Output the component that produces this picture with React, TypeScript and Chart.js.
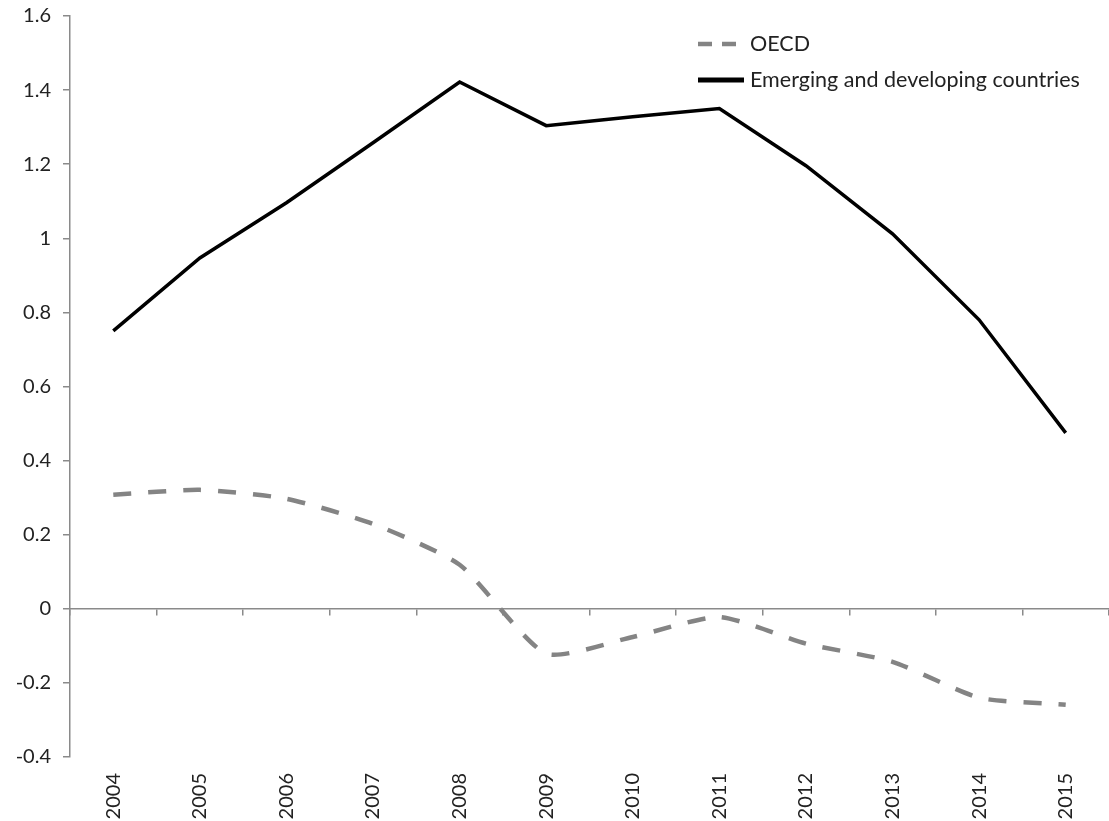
import React, { useEffect, useRef } from "react";
import { Chart, registerables } from "chart.js";

Chart.register(...registerables);

const years = ["2004", "2005", "2006", "2007", "2008", "2009", "2010", "2011", "2012", "2013", "2014", "2015"];
const oecd = [0.308, 0.321, 0.297, 0.229, 0.119, -0.121, -0.076, -0.022, -0.094, -0.143, -0.24, -0.259];
const emerging = [0.75, 0.947, 1.096, 1.258, 1.422, 1.304, 1.328, 1.35, 1.196, 1.012, 0.78, 0.475];
const yMin = -0.4;
const yMax = 1.6;
const yStep = 0.2;

const FONT = { family: "Lato, 'Open Sans', sans-serif", size: 20 };
const LEGEND_SIZE = 21.5;
const TEXT = "#222222";
const AXIS = "#8a8a8a";

const legendPlugin = {
  id: "customLegend",
  afterDraw(chart: any) {
    const ctx = chart.ctx;
    ctx.save();
    chart.data.datasets.forEach((ds: any, i: number) => {
      const y = 44 + i * 36;
      ctx.beginPath();
      ctx.strokeStyle = ds.borderColor;
      ctx.lineWidth = ds.borderDash ? ds.borderWidth : 5;
      ctx.setLineDash(ds.borderDash ? [14, 10] : []);
      ctx.lineDashOffset = 0;
      ctx.moveTo(698, y);
      ctx.lineTo(744, y);
      ctx.stroke();
      ctx.setLineDash([]);
      ctx.fillStyle = TEXT;
      ctx.font = `${LEGEND_SIZE}px ${FONT.family}`;
      ctx.textBaseline = "middle";
      ctx.textAlign = "left";
      ctx.fillText(ds.label, 750, y);
    });
    ctx.restore();
  },
};

export default function App() {
  const ref = useRef<HTMLCanvasElement>(null);
  useEffect(() => {
    if (!ref.current) return;
    const chart = new Chart(ref.current, {
      type: "line",
      data: {
        labels: years,
        datasets: [
          {
            label: "OECD",
            data: oecd,
            borderColor: "#848484",
            borderWidth: 4.5,
            borderDash: [18, 17],
            pointRadius: 0,
            tension: 0.2,
            fill: false,
          },
          {
            label: "Emerging and developing countries",
            data: emerging,
            borderColor: "#000000",
            borderWidth: 3.5,
            pointRadius: 0,
            tension: 0,
            fill: false,
          },
        ],
      },
      options: {
        responsive: false,
        animation: false,
        layout: { padding: { top: 16, right: 0, bottom: 0, left: 0 } },
        plugins: { legend: { display: false }, tooltip: { enabled: false } },
        scales: {
          x: {
            type: "category",
            position: "bottom",
            offset: true,
            grid: { display: false, drawTicks: false },
            border: { display: false },
            ticks: { minRotation: 90, maxRotation: 90, padding: 16, font: FONT, color: TEXT },
            afterFit: (s: any) => {
              s.height = 64;
              s.paddingLeft = 0;
              s.paddingRight = 0;
              s.paddingTop = 0;
              s.paddingBottom = 0;
            },
          },
          x0: {
            type: "category",
            axis: "x",
            position: { y: 0 },
            offset: true,
            grid: { offset: true, drawOnChartArea: false, drawTicks: true, tickLength: 6, color: AXIS, lineWidth: 1.5 },
            border: { color: AXIS, width: 1.5 },
            ticks: { display: false },
            afterFit: (s: any) => {
              s.paddingLeft = 0;
              s.paddingRight = 0;
              s.paddingTop = 0;
              s.paddingBottom = 0;
            },
          },
          y: {
            type: "linear",
            min: yMin,
            max: yMax,
            ticks: {
              stepSize: yStep,
              padding: 12,
              font: FONT,
              color: TEXT,
              callback: (v: any) => String(Math.round(Number(v) * 10) / 10),
            },
            grid: { drawOnChartArea: false, drawTicks: true, tickLength: 7, color: AXIS, lineWidth: 1.5 },
            border: { color: AXIS, width: 1.5 },
            afterFit: (s: any) => {
              s.width = 70;
              s.paddingTop = 0;
              s.paddingBottom = 0;
            },
          },
        },
      } as any,
      plugins: [legendPlugin],
    });
    return () => chart.destroy();
  }, []);
  return (
    <div style={{ position: "absolute", left: 0, top: 0, width: 1109, height: 821, background: "#fff" }}>
      <canvas ref={ref} width={1109} height={821} style={{ display: "block" }} />
    </div>
  );
}
